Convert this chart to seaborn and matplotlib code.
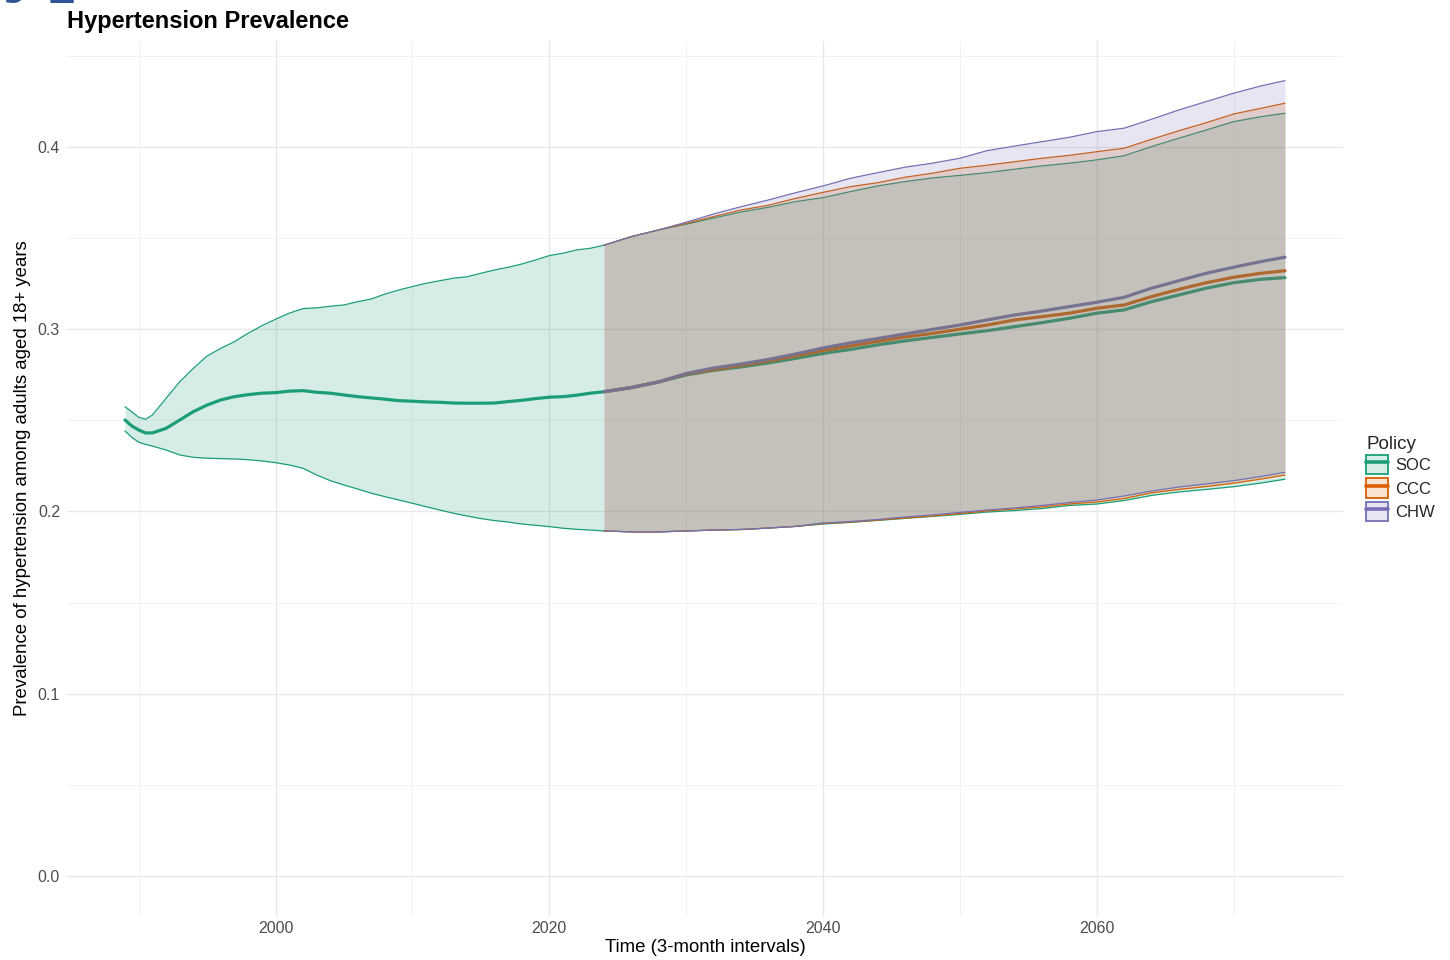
import matplotlib
matplotlib.use("Agg")
import numpy as np
import pandas as pd
import seaborn as sns
import matplotlib.pyplot as plt
from matplotlib.lines import Line2D
from matplotlib.patches import Patch
from matplotlib.colors import to_rgba
from matplotlib.ticker import MultipleLocator

# history: SOC only
hist_years = [1989, 1989.5, 1990, 1990.5, 1991, 1992, 1993, 1994, 1995, 1996, 1997,
              1998, 1999, 2000, 2001, 2002, 2003, 2004, 2005, 2006, 2007, 2008, 2009,
              2010, 2011, 2012, 2013, 2014, 2015, 2016, 2017, 2018, 2019, 2020, 2021,
              2022, 2023]
soc_hist_mean = [0.2502, 0.2469, 0.2447, 0.2431, 0.2431, 0.2456, 0.2502, 0.2548, 0.2584,
                 0.2612, 0.2630, 0.2641, 0.2649, 0.2652, 0.2660, 0.2663, 0.2654, 0.2649,
                 0.2639, 0.2630, 0.2623, 0.2616, 0.2608, 0.2605, 0.2601, 0.2599, 0.2595,
                 0.2594, 0.2594, 0.2595, 0.2603, 0.2610, 0.2619, 0.2627, 0.2630, 0.2638,
                 0.2649]
soc_hist_lo = [0.2442, 0.2406, 0.2380, 0.2368, 0.2359, 0.2337, 0.2310, 0.2297, 0.2292,
               0.2290, 0.2288, 0.2284, 0.2277, 0.2268, 0.2255, 0.2237, 0.2200, 0.2169,
               0.2145, 0.2123, 0.2100, 0.2081, 0.2063, 0.2045, 0.2026, 0.2008, 0.1990,
               0.1975, 0.1961, 0.1950, 0.1942, 0.1931, 0.1924, 0.1917, 0.1908, 0.1902,
               0.1898]
soc_hist_hi = [0.2575, 0.2546, 0.2517, 0.2506, 0.2529, 0.2621, 0.2712, 0.2786, 0.2853,
               0.2895, 0.2932, 0.2978, 0.3019, 0.3055, 0.3088, 0.3113, 0.3117, 0.3126,
               0.3133, 0.3151, 0.3166, 0.3193, 0.3215, 0.3234, 0.3252, 0.3266, 0.3280,
               0.3288, 0.3307, 0.3325, 0.3340, 0.3358, 0.3380, 0.3404, 0.3417, 0.3435,
               0.3444]

# projection: all three policies
proj_years = [2024, 2026, 2028, 2030, 2032, 2034, 2036, 2038, 2040, 2042, 2044, 2046,
              2048, 2050, 2052, 2054, 2056, 2058, 2060, 2062, 2064, 2066, 2068, 2070,
              2072, 2073.75]
soc_mean = [0.2657, 0.2680, 0.2711, 0.2749, 0.2774, 0.2793, 0.2815, 0.2840, 0.2867,
            0.2889, 0.2914, 0.2936, 0.2955, 0.2974, 0.2992, 0.3014, 0.3036, 0.3060,
            0.3088, 0.3106, 0.3151, 0.3188, 0.3225, 0.3255, 0.3274, 0.3283]
ccc_mean = [0.2657, 0.2680, 0.2711, 0.2754, 0.2779, 0.2801, 0.2826, 0.2853, 0.2883,
            0.2908, 0.2933, 0.2957, 0.2977, 0.3000, 0.3023, 0.3051, 0.3069, 0.3088,
            0.3115, 0.3133, 0.3179, 0.3219, 0.3255, 0.3285, 0.3307, 0.3321]
chw_mean = [0.2657, 0.2680, 0.2711, 0.2757, 0.2787, 0.2809, 0.2834, 0.2864, 0.2897,
            0.2925, 0.2949, 0.2974, 0.2999, 0.3023, 0.3051, 0.3078, 0.3100, 0.3124,
            0.3148, 0.3175, 0.3225, 0.3266, 0.3307, 0.3340, 0.3371, 0.3395]
soc_lo = [0.1893, 0.1888, 0.1888, 0.1893, 0.1898, 0.1901, 0.1909, 0.1918, 0.1931,
          0.1940, 0.1951, 0.1962, 0.1973, 0.1984, 0.1997, 0.2005, 0.2016, 0.2033,
          0.2041, 0.2060, 0.2088, 0.2107, 0.2121, 0.2136, 0.2156, 0.2177]
ccc_lo = [0.1893, 0.1888, 0.1888, 0.1893, 0.1898, 0.1901, 0.1909, 0.1918, 0.1934,
          0.1942, 0.1953, 0.1964, 0.1975, 0.1989, 0.2003, 0.2014, 0.2025, 0.2041,
          0.2052, 0.2071, 0.2102, 0.2121, 0.2137, 0.2155, 0.2178, 0.2200]
chw_lo = [0.1893, 0.1888, 0.1888, 0.1893, 0.1898, 0.1901, 0.1909, 0.1918, 0.1937,
          0.1945, 0.1956, 0.1970, 0.1981, 0.1995, 0.2008, 0.2019, 0.2033, 0.2049,
          0.2063, 0.2085, 0.2112, 0.2134, 0.2151, 0.2169, 0.2192, 0.2215]
soc_hi = [0.3461, 0.3508, 0.3545, 0.3576, 0.3610, 0.3643, 0.3669, 0.3700, 0.3722,
          0.3755, 0.3786, 0.3810, 0.3830, 0.3844, 0.3859, 0.3878, 0.3896, 0.3911,
          0.3929, 0.3952, 0.4002, 0.4048, 0.4093, 0.4139, 0.4166, 0.4185]
ccc_hi = [0.3461, 0.3508, 0.3545, 0.3581, 0.3618, 0.3654, 0.3680, 0.3718, 0.3751,
          0.3782, 0.3804, 0.3834, 0.3856, 0.3883, 0.3900, 0.3919, 0.3938, 0.3954,
          0.3974, 0.3993, 0.4042, 0.4089, 0.4133, 0.4181, 0.4212, 0.4240]
chw_hi = [0.3461, 0.3508, 0.3545, 0.3587, 0.3632, 0.3672, 0.3709, 0.3749, 0.3786,
          0.3828, 0.3859, 0.3889, 0.3911, 0.3938, 0.3980, 0.4005, 0.4029, 0.4053,
          0.4084, 0.4103, 0.4152, 0.4203, 0.4249, 0.4295, 0.4335, 0.4364]

policies = ["SOC", "CCC", "CHW"]
palette = {"SOC": "#1B9E77", "CCC": "#D95F02", "CHW": "#7570B3"}

frames = [
    pd.DataFrame({"year": hist_years + proj_years, "policy": "SOC",
                  "mean": soc_hist_mean + soc_mean,
                  "lo": soc_hist_lo + soc_lo, "hi": soc_hist_hi + soc_hi}),
    pd.DataFrame({"year": proj_years, "policy": "CCC",
                  "mean": ccc_mean, "lo": ccc_lo, "hi": ccc_hi}),
    pd.DataFrame({"year": proj_years, "policy": "CHW",
                  "mean": chw_mean, "lo": chw_lo, "hi": chw_hi}),
]
df = pd.concat(frames, ignore_index=True)

sns.set_theme(style="whitegrid")
plt.rcParams["font.family"] = ["Liberation Sans", "DejaVu Sans"]

fig = plt.figure(figsize=(14.5, 9.6), dpi=100)
ax = fig.add_axes([67 / 1450, 1 - 915.7 / 960, (1343 - 67) / 1450, (915.7 - 40.7) / 960])

# mean lines sit under the ribbons
sns.lineplot(data=df, x="year", y="mean", hue="policy", hue_order=policies,
             palette=palette, estimator=None, linewidth=2.3, legend=False,
             ax=ax, zorder=2)

for pol in policies:
    sub = df[df["policy"] == pol]
    c = palette[pol]
    ax.fill_between(sub["year"], sub["lo"], sub["hi"], color=c, alpha=0.18,
                    linewidth=0, zorder=3)
    ax.plot(sub["year"], sub["lo"], color=c, linewidth=0.9, zorder=3)
    ax.plot(sub["year"], sub["hi"], color=c, linewidth=0.9, zorder=3)

ax.set_xlim(1984.76, 2077.99)
ax.set_ylim(-0.0218, 0.4583)
ax.xaxis.set_major_locator(MultipleLocator(20))
ax.xaxis.set_minor_locator(MultipleLocator(10))
ax.yaxis.set_major_locator(MultipleLocator(0.1))
ax.yaxis.set_minor_locator(MultipleLocator(0.05))
ax.yaxis.set_major_formatter(matplotlib.ticker.FormatStrFormatter("%.1f"))
ax.set_facecolor("white")
ax.grid(which="major", color="#E8E8E8", linewidth=1.0)
ax.grid(which="minor", color="#F0F0F0", linewidth=0.6)
ax.set_axisbelow(True)
for s in ax.spines.values():
    s.set_visible(False)
ax.tick_params(which="both", length=0, labelsize=11.5, labelcolor="#4D4D4D")
ax.tick_params(axis="x", pad=4)
ax.tick_params(axis="y", pad=5)

ax.set_xlabel("Time (3-month intervals)", fontsize=13.4, color="black", labelpad=2)
ax.set_ylabel("Prevalence of hypertension among adults aged 18+ years",
              fontsize=13.4, color="black", labelpad=5)

fig.text(67 / 1450, 1 - 28 / 960, "Hypertension Prevalence", fontsize=17,
         fontweight="bold", color="black", va="baseline", ha="left")

# header fragment peeking in at the very top, as in the reference
fig.text(-0.0455, 1 + 16 / 960, "Hypertension", fontsize=65, fontweight="bold",
         family=["Liberation Serif", "DejaVu Serif"], color="#2E5597",
         va="baseline", ha="left")

handles = [(Patch(facecolor=to_rgba(palette[p], 0.18), edgecolor=palette[p], linewidth=1.3),
            Line2D([], [], color=palette[p], linewidth=2.6)) for p in policies]
leg = fig.legend(handles, policies, title="Policy", loc="upper left",
                 bbox_to_anchor=(1366 / 1450, 1 - 434 / 960), frameon=False,
                 borderpad=0, borderaxespad=0, fontsize=12, title_fontsize=13.6,
                 handlelength=1.32, handleheight=1.45, labelspacing=0.22,
                 handletextpad=0.45, alignment="left")
leg.get_title().set_position((0, -2))

fig.savefig("out.png", dpi=100)
